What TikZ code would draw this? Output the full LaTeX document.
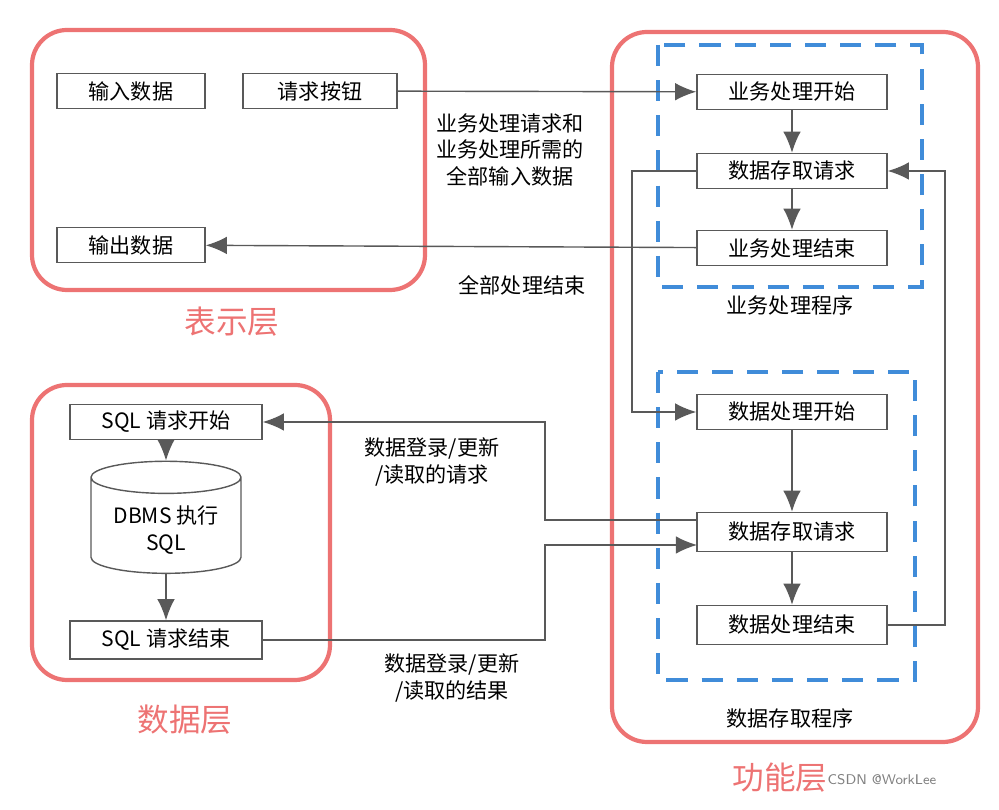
\documentclass[tikz,border=0pt]{standalone}
\usepackage{fontspec}
\setmainfont{Noto Sans CJK SC}
\usetikzlibrary{arrows.meta,shapes.geometric}
\definecolor{layerred}{rgb}{0.93,0.45,0.45}
\definecolor{progblue}{rgb}{0.25,0.55,0.85}
\definecolor{boxgray}{rgb}{0.35,0.35,0.35}
\newcommand{\boxfont}{\fontsize{6}{7.6}\selectfont}
\newcommand{\layerfont}{\fontsize{9}{10}\selectfont}
\tikzset{
  box/.style={draw=boxgray, minimum width=1.9cm, minimum height=0.35cm, inner sep=1pt, font=\boxfont},
  layer/.style={draw=layerred, line width=1.2pt, rounded corners=0.35cm},
  prog/.style={draw=progblue, line width=1.2pt, dash pattern=on 6pt off 4pt},
  flow/.style={draw=boxgray, -{Latex[length=6pt,width=5pt]}},
  note/.style={font=\boxfont, align=center, inner sep=0pt}
}
\begin{document}
\begin{tikzpicture}[x=0.01cm,y=-0.01cm]
        \useasboundingbox (0,0) rectangle (999,810);
        \draw[layer] (32,30) rectangle (425,290);
        \draw[layer] (32,385) rectangle (330,680);
        \draw[layer] (612,32) rectangle (978,742);
        \draw[prog] (658,45) rectangle (922,287);
        \draw[prog] (658,372) rectangle (915,680);
        \node[layerred, font=\layerfont] (lp) at (232,322) {表示层};
        \node[layerred, font=\layerfont] (ld) at (185,720) {数据层};
        \node[layerred, font=\layerfont] (lf) at (780,778) {功能层};
        \node[gray, font=\fontsize{4}{5}\sffamily] (wm) at (882,780) {CSDN @WorkLee};
        \node[font=\boxfont] (pb) at (790,305) {业务处理程序};
        \node[font=\boxfont] (pd) at (790,718) {数据存取程序};
        % presentation layer
        \node[box, minimum width=1.48cm] (in) at (131,91) {输入数据};
        \node[box, minimum width=1.54cm] (btn) at (320,91) {请求按钮};
        \node[box, minimum width=1.48cm] (out) at (131,245) {输出数据};
        % business program
        \node[box] (bs) at (792,92) {业务处理开始};
        \node[box] (br) at (792,171) {数据存取请求};
        \node[box] (be) at (792,248) {业务处理结束};
        % data access program
        \node[box] (ds) at (792,412) {数据处理开始};
        \node[box, minimum height=0.39cm] (dr) at (792,532) {数据存取请求};
        \node[box, minimum height=0.39cm] (de) at (792,625) {数据处理结束};
        % data layer
        \node[box, minimum width=1.92cm] (qs) at (166,422) {SQL 请求开始};
        \node[draw=boxgray, cylinder, shape border rotate=90, aspect=0.25,
              minimum width=1.5cm, minimum height=1.1cm, align=center, font=\boxfont] (db) at (166,530) {DBMS 执行\\SQL};
        \node[box, minimum width=1.92cm, minimum height=0.38cm] (qe) at (166,640) {SQL 请求结束};
        % connectors
        \draw[flow] (btn) -- (bs);
        \draw[flow] (be) -- (out);
        \draw[flow] (bs) -- (br);
        \draw[flow] (br) -- (be);
        \draw[flow] (br.west) -| (632,412) -- (ds.west);
        \draw[flow] (de.east) -| (945,171) -- (br.east);
        \draw[flow] (ds) -- (dr);
        \draw[flow] (dr) -- (de);
        \draw[flow] (697,520) -| (545,422) -- (qs.east);
        \draw[flow] (qe.east) -| (545,545) -- (697,545);
        \draw[flow] (qs) -- (db);
        \draw[flow] (db) -- (qe);
        % labels
        \node[note] (t1) at (510,150) {业务处理请求和\\业务处理所需的\\全部输入数据};
        \node[note] (t2) at (522,285) {全部处理结束};
        \node[note] (t3) at (432,462) {数据登录/更新\\/读取的请求};
        \node[note] (t4) at (452,678) {数据登录/更新\\/读取的结果};
      \end{tikzpicture}
\end{document}
